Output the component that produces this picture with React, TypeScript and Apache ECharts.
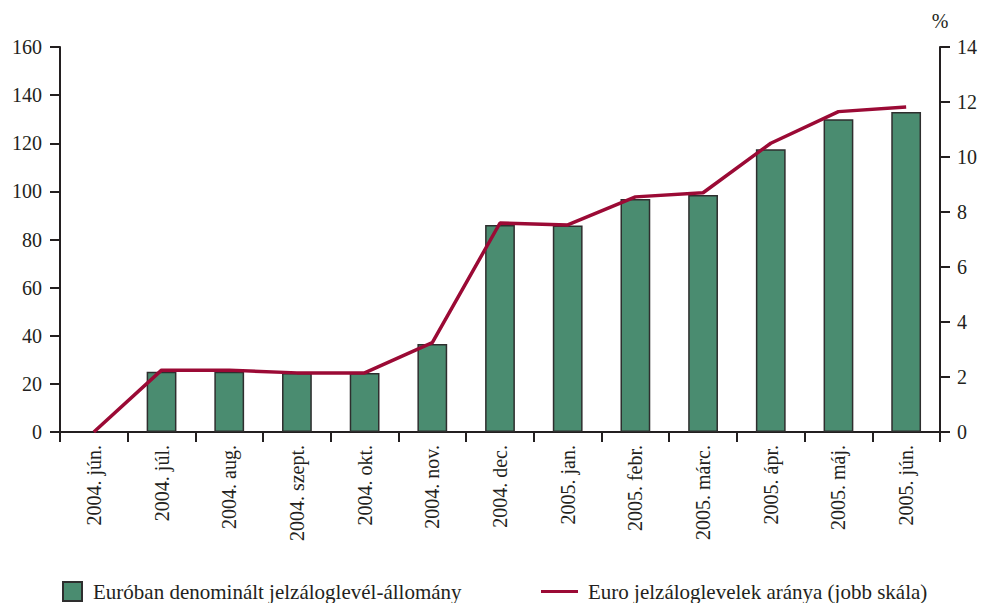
import React, { useEffect, useRef } from "react";
import * as echarts from "echarts";

const categories = [
  "2004. jún.", "2004. júl.", "2004. aug.", "2004. szept.", "2004. okt.", "2004. nov.",
  "2004. dec.", "2005. jan.", "2005. febr.", "2005. márc.", "2005. ápr.", "2005. máj.", "2005. jún.",
];
const stockValues = [0, 25, 25, 24.5, 24.5, 36.6, 86, 85.8, 96.8, 98.5, 117.5, 130, 133];
const shareValues = [0, 2.25, 2.25, 2.15, 2.15, 3.25, 7.6, 7.53, 8.55, 8.7, 10.5, 11.65, 11.82];
const leftTicks = { min: 0, max: 160, interval: 20 };
const rightTicks = { min: 0, max: 14, interval: 2 };
const barName = "Euróban denominált jelzáloglevél-állomány";
const lineName = "Euro jelzáloglevelek aránya (jobb skála)";

const FONT = "Liberation Serif";
const TXT = "#231f20";

export default function App() {
  const ref = useRef<HTMLDivElement>(null);
  useEffect(() => {
    const chart = echarts.init(ref.current!, null, { renderer: "svg" });
    const axisLine = { show: true, lineStyle: { color: TXT, width: 2 } };
    const axisTick = { show: true, length: 10, inside: false, lineStyle: { color: TXT, width: 2 } };
    const label = { color: TXT, fontFamily: FONT, fontSize: 20 };
    const legendText = { color: TXT, fontFamily: FONT, fontSize: 21 };
    chart.setOption({
      animation: false,
      textStyle: { fontFamily: FONT },
      grid: { left: 60, right: 41, top: 47, bottom: 171, containLabel: false },
      legend: [
        {
          data: [barName],
          left: 57,
          top: 576,
          itemWidth: 19,
          itemHeight: 19,
          icon: "rect",
          textStyle: { ...legendText, padding: [0, 0, 0, 6] },
          selectedMode: false,
        },
        {
          data: [{ name: lineName, icon: "rect" }],
          left: 536,
          top: 576,
          itemWidth: 37,
          itemHeight: 3,
          textStyle: { ...legendText, padding: [0, 0, 0, 5] },
          selectedMode: false,
        },
      ],
      xAxis: {
        type: "category",
        data: categories,
        boundaryGap: true,
        axisLine,
        axisTick: { ...axisTick, alignWithLabel: false },
        axisLabel: { ...label, rotate: 90, margin: 13, interval: 0 },
        splitLine: { show: false },
      },
      yAxis: [
        {
          type: "value",
          position: "left",
          ...leftTicks,
          axisLine,
          axisTick,
          axisLabel: { ...label, margin: 18 },
          splitLine: { show: false },
        },
        {
          type: "value",
          position: "right",
          ...rightTicks,
          name: "%",
          nameLocation: "end",
          nameGap: 16,
          nameTextStyle: { ...label, align: "center" },
          axisLine,
          axisTick,
          axisLabel: { ...label, margin: 17 },
          splitLine: { show: false },
        },
      ],
      series: [
        {
          name: barName,
          type: "bar",
          data: stockValues.map((v) => (v === 0 ? null : v)),
          barWidth: "44%",
          itemStyle: { color: "#4a8c70", borderColor: "#2e2e2e", borderWidth: 1.5 },
          yAxisIndex: 0,
        },
        {
          name: lineName,
          type: "line",
          data: shareValues,
          yAxisIndex: 1,
          showSymbol: false,
          symbol: "none",
          color: "#9b0a35",
          lineStyle: { color: "#9b0a35", width: 3.5 },
          itemStyle: { color: "#9b0a35" },
        },
      ],
    });
    return () => chart.dispose();
  }, []);
  return <div ref={ref} style={{ width: 981, height: 603, position: "absolute", left: 0, top: 0 }} />;
}
